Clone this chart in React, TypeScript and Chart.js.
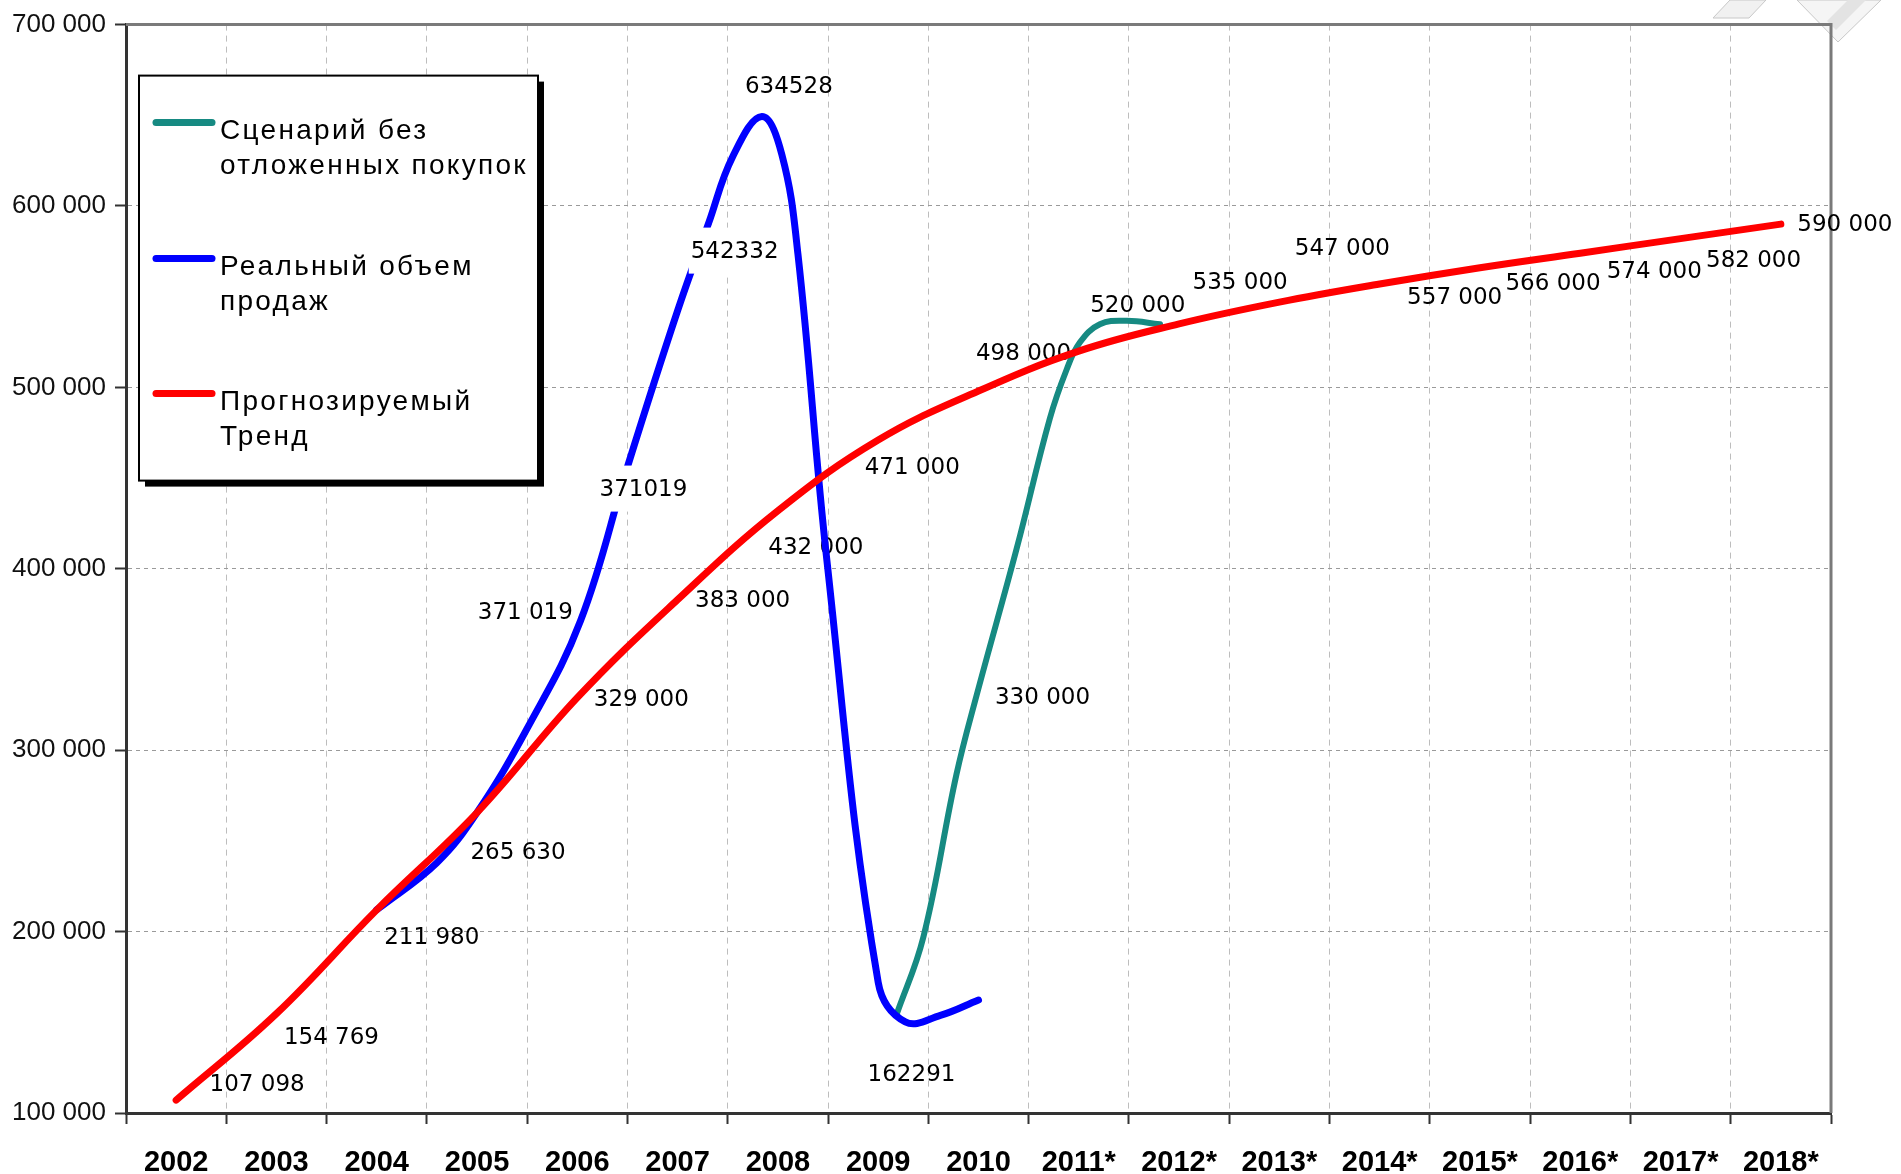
import React, { useEffect, useRef } from 'react';
import { Chart, registerables } from 'chart.js';

Chart.register(...registerables);

// ---------- data ----------
const CATEGORIES = ['2002', '2003', '2004', '2005', '2006', '2007', '2008', '2009', '2010',
  '2011*', '2012*', '2013*', '2014*', '2015*', '2016*', '2017*', '2018*'];

const TREND_YEARS = [2002, 2003, 2004, 2005, 2006, 2007, 2008, 2009, 2010, 2011, 2012, 2013, 2014, 2015, 2016, 2017, 2018];
const TREND_VALUES = [107098, 154769, 211980, 265630, 329000, 383000, 432000, 471000, 498000,
  520000, 535000, 547000, 557000, 566000, 574000, 582000, 590000];
const TREND_LABELS = ['107 098', '154 769', '211 980', '265 630', '329 000', '383 000', '432 000', '471 000', '498 000',
  '520 000', '535 000', '547 000', '557 000', '566 000', '574 000', '582 000', '590 000'];

const REAL_YEARS = [2004.0, 2004.6, 2005.0, 2005.5, 2006.03, 2006.51, 2007.0, 2007.31, 2007.55, 2007.84,
  2008.04, 2008.2, 2008.49, 2009.0, 2009.27, 2009.62, 2010.0];
const REAL_VALUES = [211980, 238000, 265630, 312000, 371019, 458000, 542332, 590700, 627300, 649300,
  628200, 573300, 403800, 172000, 150200, 153800, 162291];
const REAL_LABELS = ['', '', '', '', '371 019', '371019', '542332', '', '', '634528',
  '', '', '', '', '', '', '162291'];

const SCENARIO_YEARS = [2009.18, 2009.45, 2009.78, 2009.98, 2010.38, 2010.71, 2010.88, 2011.01, 2011.21, 2011.48, 2011.81];
const SCENARIO_VALUES = [153800, 196900, 286600, 330000, 411000, 482600, 510000, 524700, 534800, 536700, 534800];
const SCENARIO_LABELS = ['', '', '', '330 000', '', '', '', '', '', '', ''];

const LEGEND_LINES = [
  ['Сценарий без', 'отложенных покупок'],
  ['Реальный объем', 'продаж'],
  ['Прогнозируемый', 'Тренд'],
];

// ---------- label placement (pixel offsets from their point) ----------
const TREND_LABEL_OFFSETS: [number, number][] = [
  [81, -15], [55, 24], [55, 28], [41, 40], [64, 2], [65, 1], [38, 37], [34, 28], [45, -37],
  [59, -45], [61, -41], [63, -53], [75, 14], [73, 16], [74, 19], [73, 22], [64, 1],
];
const REAL_LABEL_OFFSETS: [number, number][] = REAL_YEARS.map(() => [0, 0]);
REAL_LABEL_OFFSETS[4] = [-55, -8];
REAL_LABEL_OFFSETS[5] = [15, 26];
REAL_LABEL_OFFSETS[6] = [57, -59];
REAL_LABEL_OFFSETS[9] = [27, -30];
REAL_LABEL_OFFSETS[16] = [-67, 75];
const REAL_LABEL_MASKED = REAL_YEARS.map((_, i) => i === 5 || i === 6);
const SCENARIO_LABEL_OFFSETS: [number, number][] = SCENARIO_YEARS.map(() => [0, 0]);
SCENARIO_LABEL_OFFSETS[3] = [66, 2];

const TEAL = '#168a82';
const BLUE = '#0000ff';
const RED = '#ff0000';

const LABEL_FONT = '23px "DejaVu Sans", Verdana, sans-serif';
const AXIS_FONT = '"Liberation Sans", Arial, sans-serif';

const fmt = (v: number) => String(Math.round(v)).replace(/\B(?=(\d{3})+(?!\d))/g, ' ');

const toPoints = (xs: number[], ys: number[]) => xs.map((x, i) => ({ x, y: ys[i] }));

function drawLabelSet(chart: any, dsIndex: number, texts: string[], offsets: [number, number][], masked: boolean[] | null, wantMasked: boolean) {
  const ctx = chart.ctx;
  const xs = chart.scales.xv;
  const ys = chart.scales.y;
  const data = chart.data.datasets[dsIndex].data as { x: number; y: number }[];
  ctx.save();
  ctx.font = LABEL_FONT;
  ctx.textAlign = 'center';
  ctx.textBaseline = 'middle';
  texts.forEach((t, i) => {
    if (!t) return;
    const m = masked ? masked[i] : false;
    if (m !== wantMasked) return;
    const px = xs.getPixelForValue(data[i].x) + offsets[i][0];
    const py = ys.getPixelForValue(data[i].y) + offsets[i][1];
    if (m) {
      const w = ctx.measureText(t).width;
      ctx.fillStyle = '#ffffff';
      ctx.fillRect(px - w / 2 - 2, py - 24, w + 4, 46);
    }
    ctx.fillStyle = '#000000';
    ctx.fillText(t, px, py);
  });
  ctx.restore();
}

const decorPlugin = {
  id: 'decor',
  beforeDraw(chart: any) {
    const ctx = chart.ctx;
    ctx.save();
    ctx.fillStyle = '#ffffff';
    ctx.fillRect(0, 0, chart.width, chart.height);
    ctx.lineWidth = 1;
    ctx.strokeStyle = '#c8c8c8';
    ctx.fillStyle = '#f1f1f1';
    ctx.beginPath();
    ctx.moveTo(1730, 0); ctx.lineTo(1766, 0); ctx.lineTo(1749, 18); ctx.lineTo(1713, 18); ctx.closePath();
    ctx.fill(); ctx.stroke();
    ctx.fillStyle = '#f5f5f5';
    ctx.beginPath();
    ctx.moveTo(1797, 0); ctx.lineTo(1881, 0); ctx.lineTo(1838, 42); ctx.closePath();
    ctx.fill(); ctx.stroke();
    ctx.fillStyle = '#e3e3e3';
    ctx.beginPath();
    ctx.moveTo(1848, 0); ctx.lineTo(1866, 0); ctx.lineTo(1836, 30); ctx.lineTo(1827, 21); ctx.closePath();
    ctx.fill();
    ctx.restore();
  },
};

const framePlugin = {
  id: 'frame',
  beforeDatasetsDraw(chart: any) {
    const { ctx, chartArea } = chart;
    ctx.save();
    ctx.strokeStyle = '#7a7a7a';
    ctx.lineWidth = 3;
    ctx.beginPath();
    ctx.moveTo(chartArea.left, chartArea.top);
    ctx.lineTo(chartArea.right, chartArea.top);
    ctx.lineTo(chartArea.right, chartArea.bottom);
    ctx.stroke();
    ctx.restore();
    drawLabelSet(chart, 2, TREND_LABELS, TREND_LABEL_OFFSETS, null, false);
    drawLabelSet(chart, 1, REAL_LABELS, REAL_LABEL_OFFSETS, REAL_LABEL_MASKED, false);
    drawLabelSet(chart, 0, SCENARIO_LABELS, SCENARIO_LABEL_OFFSETS, null, false);
  },
  afterDatasetsDraw(chart: any) {
    drawLabelSet(chart, 1, REAL_LABELS, REAL_LABEL_OFFSETS, REAL_LABEL_MASKED, true);
  },
};

const legendPlugin = {
  id: 'boxLegend',
  afterDraw(chart: any) {
    const { ctx, chartArea } = chart;
    const left = chartArea.left + 13;
    const top = chartArea.top + 51;
    const w = 399;
    const h = 405;
    ctx.save();
    ctx.fillStyle = '#000000';
    ctx.fillRect(left + 6, top + 6, w, h);
    ctx.fillStyle = '#ffffff';
    ctx.fillRect(left, top, w, h);
    ctx.strokeStyle = '#000000';
    ctx.lineWidth = 2;
    ctx.strokeRect(left, top, w, h);
    const markerY = [47, 183, 318];
    chart.data.datasets.forEach((ds: any, i: number) => {
      const y = top + markerY[i];
      ctx.strokeStyle = ds.borderColor;
      ctx.lineWidth = 7;
      ctx.lineCap = 'round';
      ctx.beginPath();
      ctx.moveTo(left + 17, y);
      ctx.lineTo(left + 73, y);
      ctx.stroke();
      ctx.fillStyle = '#000000';
      ctx.font = `28px ${AXIS_FONT}`;
      (ctx as any).letterSpacing = '2.3px';
      ctx.textAlign = 'left';
      ctx.textBaseline = 'middle';
      LEGEND_LINES[i].forEach((line, j) => {
        ctx.fillText(line, left + 81, y + 9 + j * 35);
      });
    });
    ctx.restore();
  },
};

export default function App() {
  const ref = useRef<HTMLCanvasElement | null>(null);
  useEffect(() => {
    document.body.style.margin = '0';
    const canvas = ref.current;
    if (!canvas) return;
    const lineStyle = { pointRadius: 0, tension: 0.4, borderCapStyle: 'round', borderJoinStyle: 'round', xAxisID: 'xv', yAxisID: 'y' };
    const chart = new Chart(canvas, {
      type: 'line',
      data: {
        datasets: [
          {
            ...lineStyle,
            label: LEGEND_LINES[0].join(' '),
            data: toPoints(SCENARIO_YEARS, SCENARIO_VALUES),
            borderColor: TEAL, borderWidth: 6,
            order: 2,
          },
          {
            ...lineStyle,
            label: LEGEND_LINES[1].join(' '),
            data: toPoints(REAL_YEARS, REAL_VALUES),
            borderColor: BLUE, borderWidth: 7,
            order: 1,
          },
          {
            ...lineStyle,
            label: LEGEND_LINES[2].join(' '),
            data: toPoints(TREND_YEARS, TREND_VALUES),
            borderColor: RED, borderWidth: 7,
            order: 0,
          },
        ],
      },
      options: {
        responsive: false,
        animation: false,
        layout: { padding: { top: 20, right: 70, left: 0, bottom: 0 } },
        plugins: { legend: { display: false }, tooltip: { enabled: false } },
        scales: {
          x: {
            type: 'category',
            labels: CATEGORIES,
            bounds: 'ticks',
            offset: true,
            grid: { offset: true, color: '#bdbdbd', lineWidth: 1, drawTicks: true, tickLength: 11, tickColor: '#333333', tickWidth: 2, tickBorderDash: [] },
            border: { display: true, color: '#333333', width: 3, dash: [6, 5] },
            ticks: { font: { family: AXIS_FONT, size: 29, weight: 'bold' }, color: '#000000', padding: 22, maxRotation: 0, autoSkip: false },
            afterFit: (s: any) => { s.height = 61; },
          },
          xv: { type: 'linear', display: false, min: 2001.5, max: 2018.5 },
          y: {
            min: 100000,
            max: 700000,
            grid: { color: '#9a9a9a', lineWidth: 1, drawTicks: true, tickLength: 11, tickColor: '#333333', tickWidth: 2, tickBorderDash: [] },
            border: { display: true, color: '#333333', width: 3, dash: [4, 4] },
            ticks: { stepSize: 100000, callback: (v: any) => fmt(Number(v)), font: { family: AXIS_FONT, size: 26 }, color: '#111111', padding: 9 },
            afterFit: (s: any) => { s.width = 126; },
          },
        },
      } as any,
      plugins: [decorPlugin, framePlugin, legendPlugin],
    });
    return () => chart.destroy();
  }, []);
  return (
    <div style={{ width: 1901, height: 1174, background: '#ffffff' }}>
      <canvas ref={ref} width={1901} height={1174} style={{ display: 'block' }} />
    </div>
  );
}
